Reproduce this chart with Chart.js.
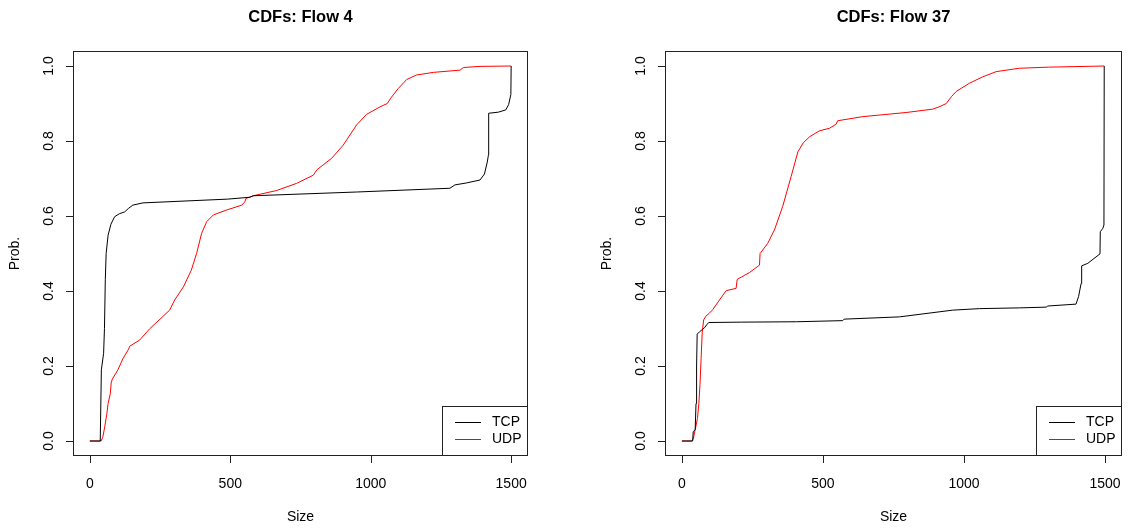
<!DOCTYPE html>
<html>
<head>
<meta charset="utf-8">
<title>CDFs</title>
<script src="https://cdn.jsdelivr.net/npm/chart.js@4.4.1/dist/chart.umd.min.js"></script>
<style>
  html, body { margin: 0; padding: 0; background: #fff; }
  #wrap { position: relative; width: 1130px; height: 529px; }
  canvas { position: absolute; top: 0; }
  #c1 { left: 0; }
  #c2 { left: 565px; }
</style>
</head>
<body>
<div id="wrap">
  <canvas id="c1" width="565" height="529"></canvas>
  <canvas id="c2" width="565" height="529"></canvas>
</div>
<script>
// Empirical CDFs of packet size per flow and protocol
const xTicks = [0, 500, 1000, 1500];
const yTicks = [0, 0.2, 0.4, 0.6, 0.8, 1.0];
const seriesNames = ['TCP', 'UDP'];
const flowTitles = ['CDFs: Flow 4', 'CDFs: Flow 37'];

// Flow 4
const flow4TcpSize = [0, 37, 41, 49, 52, 55, 58, 65, 75, 88, 105, 124, 137, 153, 189, 490, 570, 582, 950, 1282, 1300, 1340, 1389, 1405, 1415, 1419, 1420, 1455, 1481, 1491, 1499, 1500];
const flow4TcpProb = [0, 0, 0.19, 0.234, 0.3, 0.43, 0.5, 0.549, 0.578, 0.598, 0.606, 0.611, 0.62, 0.629, 0.635, 0.645, 0.65, 0.654, 0.664, 0.674, 0.683, 0.688, 0.696, 0.712, 0.744, 0.762, 0.874, 0.877, 0.883, 0.897, 0.924, 1.0];
const flow4UdpSize = [0, 40, 46, 53, 60, 65, 73, 76, 80, 100, 118, 138, 142, 177, 214, 250, 284, 302, 333, 361, 380, 398, 416, 440, 487, 541, 552, 556, 582, 665, 736, 796, 808, 861, 902, 950, 985, 1033, 1059, 1071, 1098, 1128, 1163, 1223, 1318, 1330, 1389, 1500];
const flow4UdpProb = [0, 0, 0.01, 0.038, 0.07, 0.1, 0.127, 0.155, 0.165, 0.19, 0.22, 0.245, 0.253, 0.269, 0.3, 0.325, 0.349, 0.376, 0.411, 0.455, 0.5, 0.554, 0.585, 0.603, 0.616, 0.629, 0.638, 0.647, 0.654, 0.668, 0.687, 0.709, 0.723, 0.754, 0.789, 0.843, 0.871, 0.891, 0.9, 0.914, 0.94, 0.964, 0.976, 0.983, 0.989, 0.996, 0.999, 1.0];

// Flow 37
const flow37TcpSize = [0, 38, 40, 47, 50, 52, 54, 62, 80, 88, 95, 212, 406, 570, 575, 771, 960, 1055, 1196, 1291, 1297, 1397, 1406, 1415, 1417, 1439, 1482, 1483, 1492, 1496, 1497];
const flow37TcpProb = [0, 0, 0.025, 0.03, 0.1, 0.2, 0.285, 0.291, 0.302, 0.31, 0.316, 0.317, 0.318, 0.321, 0.325, 0.331, 0.349, 0.353, 0.355, 0.357, 0.36, 0.365, 0.385, 0.42, 0.467, 0.474, 0.499, 0.558, 0.567, 0.576, 1.0];
const flow37UdpSize = [0, 34, 40, 47, 55, 60, 64, 68, 72, 77, 85, 96, 109, 133, 157, 192, 196, 239, 275, 277, 304, 328, 357, 387, 411, 430, 452, 487, 523, 547, 552, 641, 795, 889, 915, 937, 955, 972, 1019, 1066, 1114, 1196, 1300, 1497];
const flow37UdpProb = [0, 0, 0.005, 0.03, 0.06, 0.1, 0.15, 0.22, 0.29, 0.323, 0.333, 0.34, 0.35, 0.376, 0.401, 0.407, 0.431, 0.449, 0.469, 0.5, 0.527, 0.563, 0.625, 0.705, 0.771, 0.795, 0.811, 0.827, 0.834, 0.845, 0.854, 0.865, 0.876, 0.885, 0.892, 0.9, 0.918, 0.932, 0.954, 0.971, 0.985, 0.994, 0.997, 1.0];

const FONT = '"Liberation Sans", Arial, Helvetica, sans-serif';
const seriesColors = ['#000000', '#ff0000'];

function pairs(xs, ys) {
  return xs.map((v, i) => ({ x: v, y: ys[i] }));
}

// Box, axes, labels and legend drawn in the style of base R graphics
const rFrame = {
  id: 'rFrame',
  afterDraw(chart, args, opts) {
    const { ctx, chartArea: a, scales } = chart;
    const sx = scales.x, sy = scales.y;
    ctx.save();
    ctx.strokeStyle = '#222';
    ctx.fillStyle = '#000';
    ctx.lineWidth = 1;

    // plot box
    ctx.strokeRect(a.left + 0.5, a.top + 0.5, a.right - a.left - 1, a.bottom - a.top - 1);

    // x axis
    ctx.font = '14px ' + FONT;
    ctx.textAlign = 'center';
    ctx.textBaseline = 'middle';
    ctx.beginPath();
    ctx.moveTo(Math.round(sx.getPixelForValue(xTicks[0])) + 0.5, a.bottom - 0.5);
    ctx.lineTo(Math.round(sx.getPixelForValue(xTicks[xTicks.length - 1])) + 0.5, a.bottom - 0.5);
    xTicks.forEach(v => {
      const px = Math.round(sx.getPixelForValue(v)) + 0.5;
      ctx.moveTo(px, a.bottom);
      ctx.lineTo(px, a.bottom + 7);
    });
    // y axis
    ctx.moveTo(a.left + 0.5, Math.round(sy.getPixelForValue(yTicks[0])) + 0.5);
    ctx.lineTo(a.left + 0.5, Math.round(sy.getPixelForValue(yTicks[yTicks.length - 1])) + 0.5);
    yTicks.forEach(v => {
      const py = Math.round(sy.getPixelForValue(v)) + 0.5;
      ctx.moveTo(a.left, py);
      ctx.lineTo(a.left - 7, py);
    });
    ctx.stroke();

    xTicks.forEach(v => {
      ctx.fillText(String(v), sx.getPixelForValue(v), a.bottom + 28);
    });
    yTicks.forEach(v => {
      ctx.save();
      ctx.translate(a.left - 24, sy.getPixelForValue(v));
      ctx.rotate(-Math.PI / 2);
      ctx.fillText(v.toFixed(1), 0, 0);
      ctx.restore();
    });

    // axis titles
    const midX = (a.left + a.right) / 2;
    const midY = (a.top + a.bottom) / 2;
    ctx.fillText(opts.xTitle, midX, a.bottom + 61);
    ctx.save();
    ctx.translate(a.left - 57.5, midY);
    ctx.rotate(-Math.PI / 2);
    ctx.fillText(opts.yTitle, 0, 0);
    ctx.restore();

    // main title
    ctx.font = 'bold 16.5px ' + FONT;
    ctx.fillText(opts.title, midX, 17);

    // legend, bottom right
    const lw = 86.5, lh = 50.5;
    const lx = Math.round(a.right - lw), ly = Math.round(a.bottom - lh);
    ctx.fillStyle = '#fff';
    ctx.fillRect(lx, ly, a.right - lx, a.bottom - ly);
    ctx.strokeRect(lx + 0.5, ly + 0.5, a.right - lx - 1, a.bottom - ly - 1);
    ctx.font = '14px ' + FONT;
    ctx.textAlign = 'left';
    chart.data.datasets.forEach((ds, i) => {
      const yy = ly + 16.5 + 17 * i;
      ctx.strokeStyle = ds.borderColor;
      ctx.beginPath();
      ctx.moveTo(lx + 13, yy);
      ctx.lineTo(lx + 39, yy);
      ctx.stroke();
      ctx.fillStyle = '#000';
      ctx.fillText(ds.label, lx + 50, yy);
    });
    ctx.restore();
  }
};

function makeChart(id, title, tcp, udp, padding) {
  return new Chart(document.getElementById(id), {
    type: 'scatter',
    data: {
      datasets: [
        { label: seriesNames[0], data: tcp, borderColor: seriesColors[0], backgroundColor: seriesColors[0] },
        { label: seriesNames[1], data: udp, borderColor: seriesColors[1], backgroundColor: seriesColors[1] }
      ]
    },
    options: {
      responsive: false,
      animation: false,
      showLine: true,
      layout: { padding },
      elements: {
        point: { radius: 0, hoverRadius: 0 },
        line: { borderWidth: 1, tension: 0, fill: false }
      },
      scales: {
        x: { type: 'linear', min: -60, max: 1560, display: false },
        y: { type: 'linear', min: -0.04, max: 1.04, display: false }
      },
      plugins: {
        legend: { display: false },
        title: { display: false },
        tooltip: { enabled: false },
        rFrame: { title, xTitle: 'Size', yTitle: 'Prob.' }
      }
    },
    plugins: [rFrame]
  });
}

makeChart('c1', flowTitles[0],
  pairs(flow4TcpSize, flow4TcpProb), pairs(flow4UdpSize, flow4UdpProb),
  { left: 73, right: 37, top: 51, bottom: 73 });
makeChart('c2', flowTitles[1],
  pairs(flow37TcpSize, flow37TcpProb), pairs(flow37UdpSize, flow37UdpProb),
  { left: 100, right: 8, top: 51, bottom: 73 });
</script>
</body>
</html>
